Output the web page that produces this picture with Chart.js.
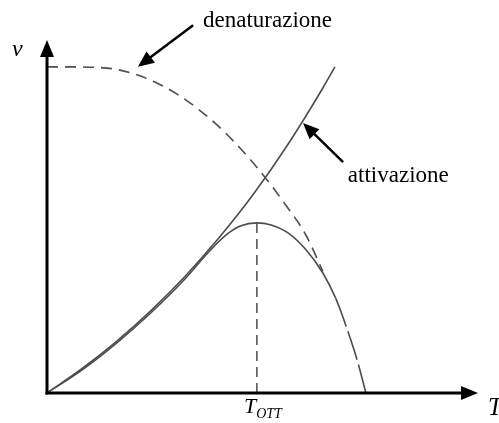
<!DOCTYPE html>
<html>
<head>
<meta charset="utf-8">
<script src="https://cdn.jsdelivr.net/npm/chart.js@4"></script>
<style>
  html, body { margin: 0; padding: 0; background: #fff; }
  #wrap { width: 499px; height: 423px; }
</style>
</head>
<body>
<div id="wrap"><canvas id="enzChart" width="499" height="423"></canvas></div>
<script>
// temperature (arbitrary units, 0-100) and rate (0-100)
const activationT = [0, 8, 16, 24, 32, 40, 48, 56, 64, 66.8];
const activationV = [0, 6.8, 14.5, 23.2, 33.0, 44.1, 56.5, 70.6, 86.4, 92.4];

const denaturT = [0, 5, 10, 15, 20, 25, 30, 35, 40, 45, 50, 55, 60, 64];
const denaturV = [92.4, 92.4, 92.3, 91.9, 90.5, 88.1, 84.8, 80.5, 75.3, 69.1, 62.0, 53.9, 44.9, 34.5];

const rateT = [0, 8, 16, 24, 32, 38, 42, 45, 48.7, 52, 56, 60, 64, 67, 70, 72, 74];
const rateV = [0, 6.4, 14.0, 22.6, 32.3, 40.6, 45.2, 47.4, 48.2, 47.6, 45.3, 40.7, 34.0, 26.8, 16.8, 9.2, 0];

const optimumT = 48.7;
const optimumV = 48.2;

const lineColor = '#4d4d4d';
const serif = '"Liberation Serif", "DejaVu Serif", serif';

const toPoints = (xs, ys) => xs.map((x, i) => ({ x: x, y: ys[i] }));

// axes with arrow heads, labels and the two pointer arrows
const decorations = {
  id: 'decorations',
  afterDatasetsDraw(chart) {
    const { ctx, chartArea, scales } = chart;
    const px = v => scales.x.getPixelForValue(v);
    const py = v => scales.y.getPixelForValue(v);
    const x0 = chartArea.left, y0 = chartArea.bottom;

    ctx.save();
    ctx.fillStyle = '#000';
    ctx.strokeStyle = '#000';

    // y axis
    ctx.lineWidth = 3;
    ctx.beginPath();
    ctx.moveTo(x0, y0 + 1.5);
    ctx.lineTo(x0, chartArea.top + 14);
    ctx.stroke();
    ctx.beginPath();
    ctx.moveTo(x0, chartArea.top);
    ctx.lineTo(x0 - 7, chartArea.top + 17);
    ctx.lineTo(x0 + 7, chartArea.top + 17);
    ctx.closePath();
    ctx.fill();

    // x axis
    ctx.beginPath();
    ctx.moveTo(x0 - 1.5, y0);
    ctx.lineTo(chartArea.right - 14, y0);
    ctx.stroke();
    ctx.beginPath();
    ctx.moveTo(chartArea.right, y0);
    ctx.lineTo(chartArea.right - 17, y0 - 7);
    ctx.lineTo(chartArea.right - 17, y0 + 7);
    ctx.closePath();
    ctx.fill();

    // pointer arrows
    const arrow = (fx, fy, tx, ty) => {
      const a = Math.atan2(ty - fy, tx - fx);
      const L = 16, W = 7;
      ctx.lineWidth = 2.5;
      ctx.beginPath();
      ctx.moveTo(fx, fy);
      ctx.lineTo(tx - Math.cos(a) * L * 0.8, ty - Math.sin(a) * L * 0.8);
      ctx.stroke();
      ctx.beginPath();
      ctx.moveTo(tx, ty);
      ctx.lineTo(tx - Math.cos(a) * L - Math.sin(a) * W, ty - Math.sin(a) * L + Math.cos(a) * W);
      ctx.lineTo(tx - Math.cos(a) * L + Math.sin(a) * W, ty - Math.sin(a) * L - Math.cos(a) * W);
      ctx.closePath();
      ctx.fill();
    };
    arrow(px(33.9), py(104.2), px(21.1), py(92.4));
    arrow(px(68.7), py(65.4), px(59.4), py(76.5));

    // texts
    ctx.textBaseline = 'alphabetic';
    ctx.textAlign = 'left';
    ctx.font = '23px ' + serif;
    ctx.fillText('denaturazione', px(36.2), py(103.7));
    ctx.fillText('attivazione', px(69.8), py(59.8));

    ctx.font = 'italic 24px ' + serif;
    ctx.fillText('v', 12, 56);
    ctx.font = 'italic 25px ' + serif;
    ctx.fillText('T', chartArea.right + 10, y0 + 22);

    const sx = px(optimumT) - 13;
    ctx.font = 'italic 22px ' + serif;
    const tw = ctx.measureText('T').width;
    ctx.fillText('T', sx, y0 + 20);
    ctx.font = 'italic 14px ' + serif;
    ctx.fillText('OTT', sx + tw, y0 + 25);

    ctx.restore();
  }
};

new Chart(document.getElementById('enzChart').getContext('2d'), {
  type: 'line',
  data: {
    datasets: [
      {
        label: 'attivazione',
        data: toPoints(activationT, activationV),
        borderColor: lineColor,
        borderWidth: 1.6,
        pointRadius: 0,
        cubicInterpolationMode: 'monotone'
      },
      {
        label: 'denaturazione',
        data: toPoints(denaturT, denaturV),
        borderColor: lineColor,
        borderWidth: 1.6,
        borderDash: [11, 7],
        pointRadius: 0,
        cubicInterpolationMode: 'monotone'
      },
      {
        label: 'velocità',
        data: toPoints(rateT, rateV),
        borderColor: lineColor,
        borderWidth: 1.6,
        pointRadius: 0,
        cubicInterpolationMode: 'monotone',
        segment: {
          borderDash: c => c.p0.parsed.x >= 67 ? [30, 5] : undefined
        }
      },
      {
        label: 'T_OTT',
        data: [{ x: optimumT, y: 0 }, { x: optimumT, y: optimumV }],
        borderColor: '#333',
        borderWidth: 1.3,
        borderDash: [10, 6],
        pointRadius: 0
      }
    ]
  },
  options: {
    responsive: false,
    animation: false,
    layout: { padding: { left: 47, right: 21, top: 40, bottom: 30 } },
    scales: {
      x: { type: 'linear', min: 0, max: 100, display: false },
      y: { type: 'linear', min: 0, max: 100, display: false }
    },
    plugins: {
      legend: { display: false },
      tooltip: { enabled: false }
    }
  },
  plugins: [decorations]
});
</script>
</body>
</html>
